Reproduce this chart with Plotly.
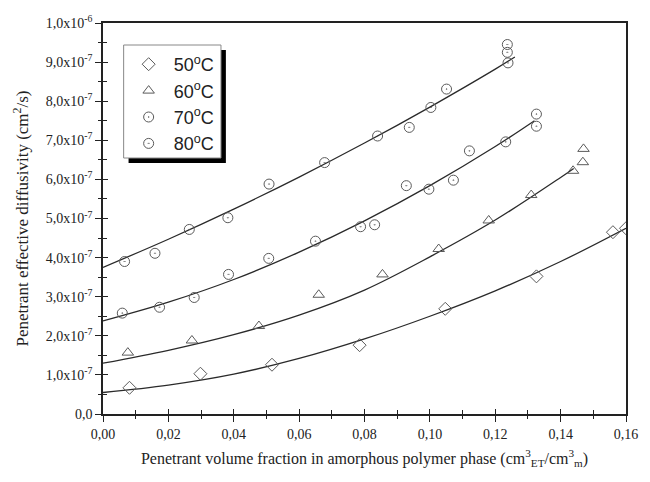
import plotly.graph_objects as go

# Diffusivity values are given in units of 1e-7 cm^2/s
UNIT = 1e-7

temperatures = ["50", "60", "70", "80"]

# Measured points: penetrant volume fraction vs effective diffusivity
d50_x = [0.0081, 0.0298, 0.0517, 0.0785, 0.1047, 0.1326, 0.156, 0.160]
d50_y = [0.67, 1.03, 1.26, 1.76, 2.69, 3.52, 4.65, 4.75]

d60_x = [0.0076, 0.0272, 0.0477, 0.066, 0.0855, 0.1027, 0.118, 0.131, 0.1438, 0.1468, 0.147]
d60_y = [1.57, 1.88, 2.25, 3.05, 3.57, 4.22, 4.95, 5.60, 6.22, 6.44, 6.78]

d70_x = [0.0059, 0.0173, 0.0279, 0.0384, 0.0507, 0.065, 0.0788, 0.0831, 0.0928,
         0.0997, 0.1072, 0.1121, 0.1232, 0.1326, 0.1326]
d70_y = [2.58, 2.73, 2.98, 3.57, 3.98, 4.42, 4.79, 4.84, 5.84,
         5.75, 5.98, 6.73, 6.96, 7.36, 7.67]

d80_x = [0.0066, 0.0159, 0.0264, 0.0382, 0.0508, 0.0678, 0.084, 0.0937, 0.1003,
         0.1051, 0.1237, 0.1237, 0.1239]
d80_y = [3.90, 4.11, 4.72, 5.02, 5.88, 6.43, 7.11, 7.33, 7.84,
         8.31, 9.45, 9.25, 8.98]

# Fitted curves
f50_x = [0.0, 0.02, 0.04, 0.06, 0.08, 0.10, 0.12, 0.14, 0.16]
f50_y = [0.55, 0.74, 1.02, 1.42, 1.92, 2.50, 3.15, 3.90, 4.75]

f60_x = [0.0, 0.02, 0.04, 0.06, 0.08, 0.10, 0.12, 0.14, 0.144]
f60_y = [1.30, 1.63, 2.03, 2.53, 3.17, 4.02, 4.96, 6.05, 6.28]

f70_x = [0.0, 0.02, 0.04, 0.06, 0.08, 0.10, 0.12, 0.132]
f70_y = [2.38, 2.86, 3.44, 4.14, 4.94, 5.84, 6.84, 7.50]

f80_x = [0.0, 0.02, 0.04, 0.06, 0.08, 0.10, 0.12, 0.126]
f80_y = [3.75, 4.47, 5.24, 6.06, 6.93, 7.85, 8.82, 9.13]

x_ticks = [0.00, 0.02, 0.04, 0.06, 0.08, 0.10, 0.12, 0.14, 0.16]
y_tick_vals = [i * UNIT for i in range(11)]
y_tick_text = ["0,0"] + [f"{i},0x10<sup>-7</sup>" for i in range(1, 10)] + ["1,0x10<sup>-6</sup>"]

points = [(d50_x, d50_y), (d60_x, d60_y), (d70_x, d70_y), (d80_x, d80_y)]
curves = [(f50_x, f50_y), (f60_x, f60_y), (f70_x, f70_y), (f80_x, f80_y)]
symbols = ["diamond-open", "triangle-up-open", "circle-open-dot", "circle-open-dot"]

MARK = "#5a5a5a"
LINE = "#2a2a2a"
SERIF = "Liberation Serif"
SANS = "Liberation Sans"

# Plot-area geometry (pixels) used to place the legend frame in paper units
W, H = 650, 482
ML, MR, MT, MB = 103, 15, 23, 68
PW, PH = W - ML - MR, H - MT - MB


def px_x(p):
    return (p - ML) / PW


def px_y(p):
    return (H - MB - p) / PH


fig = go.Figure()

for (cx, cy) in curves:
    fig.add_trace(go.Scatter(
        x=cx, y=[v * UNIT for v in cy], mode="lines",
        line=dict(color=LINE, width=1.3, shape="spline", smoothing=1.0),
        showlegend=False, hoverinfo="skip",
    ))

for t, (px, py), sym in zip(temperatures, points, symbols):
    fig.add_trace(go.Scatter(
        x=px, y=[v * UNIT for v in py], mode="markers",
        name=f"{t}<sup>o</sup>C",
        marker=dict(symbol=sym, size=10, color=MARK, line=dict(color=MARK, width=1)),
    ))

# Overlay axes carrying the inward half of the crossing ticks
fig.add_trace(go.Scatter(x=[None], y=[None], xaxis="x2", yaxis="y2",
                         showlegend=False, hoverinfo="skip"))

axis_common = dict(showgrid=False, zeroline=False)

fig.update_layout(
    width=W, height=H,
    margin=dict(l=ML, r=MR, t=MT, b=MB),
    paper_bgcolor="white", plot_bgcolor="white",
    separators=",.",
    xaxis=dict(
        **axis_common, range=[0, 0.16], tickvals=x_ticks, tickformat=".2f",
        ticks="outside", ticklen=6, tickwidth=1.2, tickcolor="#222",
        minor=dict(dtick=0.01, ticks="outside", ticklen=3, tickcolor="#222"),
        showline=True, linecolor="#222", linewidth=1.5, mirror=True,
        tickfont=dict(family=SERIF, size=14, color="#222"),
        title=dict(
            text="Penetrant volume fraction in amorphous polymer phase "
                 "(cm<sup>3</sup><sub>ET</sub>/cm<sup>3</sup><sub>m</sub>)",
            font=dict(family=SERIF, size=16, color="#222"), standoff=12),
    ),
    yaxis=dict(
        **axis_common, range=[0, 1e-6], tickvals=y_tick_vals, ticktext=y_tick_text,
        ticks="outside", ticklen=6, tickwidth=1.2, tickcolor="#222",
        minor=dict(dtick=0.5 * UNIT, ticks="outside", ticklen=3, tickcolor="#222"),
        showline=True, linecolor="#222", linewidth=1.5, mirror=True,
        tickfont=dict(family=SERIF, size=14, color="#222"),
        title=dict(text="Penetrant effective diffusivity (cm<sup>2</sup>/s)",
                   font=dict(family=SERIF, size=17, color="#222"), standoff=13),
    ),
    xaxis2=dict(
        **axis_common, overlaying="x", anchor="y2", side="bottom", range=[0, 0.16],
        tickvals=x_ticks, showticklabels=False, ticks="inside", ticklen=5,
        tickwidth=1.2, tickcolor="#222", showline=False,
        minor=dict(dtick=0.01, ticks="inside", ticklen=4, tickcolor="#222"),
    ),
    yaxis2=dict(
        **axis_common, overlaying="y", anchor="x2", side="left", range=[0, 1e-6],
        tickvals=y_tick_vals, showticklabels=False, ticks="inside", ticklen=5,
        tickwidth=1.2, tickcolor="#222", showline=False,
        minor=dict(dtick=0.5 * UNIT, ticks="inside", ticklen=4, tickcolor="#222"),
    ),
    legend=dict(
        x=px_x(124), y=px_y(46), xanchor="left", yanchor="top",
        bgcolor="rgba(0,0,0,0)", borderwidth=0,
        font=dict(family=SANS, size=18, color="#222"),
        itemsizing="trace", tracegroupgap=0, itemwidth=40,
    ),
    shapes=[
        # drop shadow of the legend frame
        dict(type="rect", xref="paper", yref="paper",
             x0=px_x(129), x1=px_x(228), y0=px_y(163), y1=px_y(50),
             fillcolor="black", line=dict(width=0), layer="above"),
        # legend frame
        dict(type="rect", xref="paper", yref="paper",
             x0=px_x(124), x1=px_x(223), y0=px_y(158), y1=px_y(45),
             fillcolor="white", line=dict(color="#888", width=1), layer="above"),
    ],
)

fig.write_html("out.html")
